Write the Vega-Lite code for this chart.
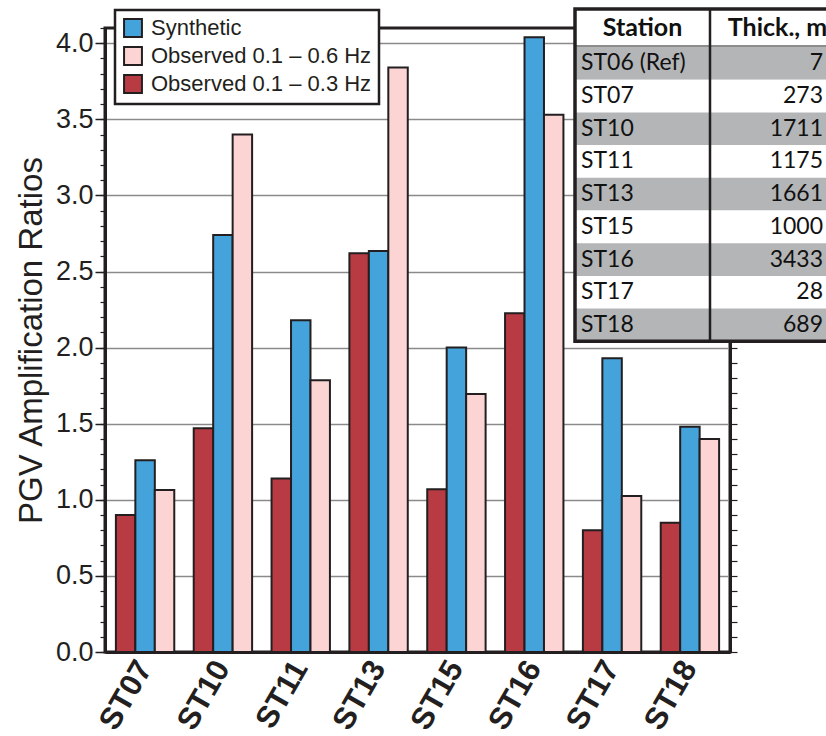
{
  "$schema": "https://vega.github.io/schema/vega-lite/v6.json",
  "width": 625,
  "height": 624,
  "autosize": {"type": "none"},
  "padding": {"left": 105, "top": 28, "right": 96, "bottom": 84},
  "background": "white",
  "config": {
    "view": {"stroke": "#231f20", "strokeWidth": 3},
    "font": "Liberation Sans"
  },
  "datasets": {
    "bars": [
      {"Station": "ST07", "Series": "Observed 0.1 – 0.3 Hz", "Value": 0.90},
      {"Station": "ST07", "Series": "Synthetic", "Value": 1.26},
      {"Station": "ST07", "Series": "Observed 0.1 – 0.6 Hz", "Value": 1.065},
      {"Station": "ST10", "Series": "Observed 0.1 – 0.3 Hz", "Value": 1.47},
      {"Station": "ST10", "Series": "Synthetic", "Value": 2.74},
      {"Station": "ST10", "Series": "Observed 0.1 – 0.6 Hz", "Value": 3.40},
      {"Station": "ST11", "Series": "Observed 0.1 – 0.3 Hz", "Value": 1.14},
      {"Station": "ST11", "Series": "Synthetic", "Value": 2.18},
      {"Station": "ST11", "Series": "Observed 0.1 – 0.6 Hz", "Value": 1.785},
      {"Station": "ST13", "Series": "Observed 0.1 – 0.3 Hz", "Value": 2.62},
      {"Station": "ST13", "Series": "Synthetic", "Value": 2.635},
      {"Station": "ST13", "Series": "Observed 0.1 – 0.6 Hz", "Value": 3.84},
      {"Station": "ST15", "Series": "Observed 0.1 – 0.3 Hz", "Value": 1.07},
      {"Station": "ST15", "Series": "Synthetic", "Value": 2.00},
      {"Station": "ST15", "Series": "Observed 0.1 – 0.6 Hz", "Value": 1.695},
      {"Station": "ST16", "Series": "Observed 0.1 – 0.3 Hz", "Value": 2.225},
      {"Station": "ST16", "Series": "Synthetic", "Value": 4.04},
      {"Station": "ST16", "Series": "Observed 0.1 – 0.6 Hz", "Value": 3.53},
      {"Station": "ST17", "Series": "Observed 0.1 – 0.3 Hz", "Value": 0.80},
      {"Station": "ST17", "Series": "Synthetic", "Value": 1.93},
      {"Station": "ST17", "Series": "Observed 0.1 – 0.6 Hz", "Value": 1.025},
      {"Station": "ST18", "Series": "Observed 0.1 – 0.3 Hz", "Value": 0.85},
      {"Station": "ST18", "Series": "Synthetic", "Value": 1.48},
      {"Station": "ST18", "Series": "Observed 0.1 – 0.6 Hz", "Value": 1.40}
    ],
    "table": [
      {"row": 1, "Station": "ST06 (Ref)", "Thick": 7},
      {"row": 2, "Station": "ST07", "Thick": 273},
      {"row": 3, "Station": "ST10", "Thick": 1711},
      {"row": 4, "Station": "ST11", "Thick": 1175},
      {"row": 5, "Station": "ST13", "Thick": 1661},
      {"row": 6, "Station": "ST15", "Thick": 1000},
      {"row": 7, "Station": "ST16", "Thick": 3433},
      {"row": 8, "Station": "ST17", "Thick": 28},
      {"row": 9, "Station": "ST18", "Thick": 689}
    ],
    "header": [
      {"label": "Station", "col": 0.5},
      {"label": "Thick., m", "col": 1.5}
    ],
    "one": [{}]
  },
  "layer": [
    {
      "data": {"name": "bars"},
      "mark": {"type": "bar", "stroke": "#231f20", "strokeWidth": 2},
      "encoding": {
        "x": {
          "field": "Station", "type": "nominal", "sort": null,
          "scale": {"paddingInner": 0.25, "paddingOuter": 0.14},
          "axis": {"title": null, "labelAngle": -60, "labelFontSize": 31, "labelFontWeight": "bold", "labelColor": "#231f20", "ticks": false, "domain": true, "domainWidth": 3, "domainColor": "#231f20", "labelPadding": 11, "grid": false, "orient": "bottom"}
        },
        "xOffset": {
          "field": "Series", "type": "nominal",
          "scale": {"domain": ["Observed 0.1 – 0.3 Hz", "Synthetic", "Observed 0.1 – 0.6 Hz"], "paddingInner": 0, "paddingOuter": 0}
        },
        "y": {
          "field": "Value", "type": "quantitative",
          "scale": {"domain": [0, 4.1], "nice": false, "zero": true},
          "axis": {"orient": "left", "title": "PGV Amplification Ratios", "values": [0, 0.5, 1, 1.5, 2, 2.5, 3, 3.5, 4], "format": ".1f", "labelFontSize": 27, "labelColor": "#231f20", "titleFontSize": 33, "titleFontWeight": "normal", "titleColor": "#231f20", "tickSize": 10, "tickWidth": 1.5, "tickColor": "#231f20", "domainWidth": 3, "domainColor": "#231f20", "grid": true, "gridColor": "#8a8a8a", "gridWidth": 1.5, "labelPadding": 2, "titlePadding": 7}
        },
        "color": {
          "field": "Series", "type": "nominal",
          "scale": {"domain": ["Synthetic", "Observed 0.1 – 0.6 Hz", "Observed 0.1 – 0.3 Hz"], "range": ["#45a3db", "#fcd4d4", "#b83b44"]},
          "legend": {"title": null, "orient": "none", "legendX": 10, "legendY": -18, "fillColor": "white", "strokeColor": "#231f20", "padding": 7, "symbolType": "square", "symbolSize": 320, "symbolStrokeColor": "#231f20", "symbolStrokeWidth": 2, "labelFontSize": 22, "labelLimit": 0, "labelColor": "#231f20", "rowPadding": 2, "labelOffset": 7,
            "encode": {"legend": {"update": {"strokeWidth": {"value": 2.5}}}}}
        }
      }
    },
    {
      "data": {"name": "one"},
      "mark": {"type": "rule", "opacity": 0},
      "encoding": {
        "y": {"datum": 0, "type": "quantitative", "scale": {"domain": [0, 4.1], "nice": false},
          "axis": {"orient": "left", "title": null, "labels": false, "grid": false, "domain": false, "tickSize": 5, "tickWidth": 1.2, "tickColor": "#231f20", "values": [0,0.1,0.2,0.3,0.4,0.5,0.6,0.7,0.8,0.9,1,1.1,1.2,1.3,1.4,1.5,1.6,1.7,1.8,1.9,2,2.1,2.2,2.3,2.4,2.5,2.6,2.7,2.8,2.9,3,3.1,3.2,3.3,3.4,3.5,3.6,3.7,3.8,3.9,4,4.1]}}
      }
    },
    {
      "data": {"name": "one"},
      "mark": {"type": "rule", "opacity": 0},
      "encoding": {
        "y": {"datum": 0, "type": "quantitative", "scale": {"domain": [0, 4.1], "nice": false},
          "axis": {"orient": "right", "title": null, "labels": false, "grid": false, "domain": true, "domainWidth": 3, "domainColor": "#231f20", "tickSize": 7, "tickWidth": 1.2, "tickColor": "#231f20", "values": [0,0.1,0.2,0.3,0.4,0.5,0.6,0.7,0.8,0.9,1,1.1,1.2,1.3,1.4,1.5,1.6,1.7,1.8,1.9,2,2.1,2.2,2.3,2.4,2.5,2.6,2.7,2.8,2.9,3,3.1,3.2,3.3,3.4,3.5,3.6,3.7,3.8,3.9,4,4.1]}}
      }
    },
    {
      "data": {"name": "one"},
      "mark": {"type": "rect", "fill": "white"},
      "encoding": {
        "x": {"datum": 0, "type": "quantitative", "scale": {"domain": [0, 2], "range": [470, 740], "nice": false}, "axis": null},
        "x2": {"datum": 2},
        "y": {"datum": -0.16, "type": "quantitative", "scale": {"domain": [0, 10], "range": [-13.7, 313.3], "nice": false}, "axis": null},
        "y2": {"datum": 10}
      }
    },
    {
      "data": {"name": "table"},
      "transform": [{"calculate": "datum.row + 1", "as": "rowEnd"}],
      "mark": {"type": "rect"},
      "encoding": {
        "x": {"datum": 0, "type": "quantitative", "scale": {"domain": [0, 2], "range": [470, 740], "nice": false}, "axis": null},
        "x2": {"datum": 2},
        "y": {"field": "row", "type": "quantitative", "scale": {"domain": [0, 10], "range": [-13.7, 313.3], "nice": false}, "axis": null},
        "y2": {"field": "rowEnd"},
        "color": {"condition": {"test": "datum.row % 2 == 1", "value": "#b4b5b7"}, "value": "#ffffff"}
      }
    },
    {
      "data": {"name": "one"},
      "mark": {"type": "rule", "stroke": "#8c8c8c", "strokeWidth": 2},
      "encoding": {
        "x": {"datum": 0, "type": "quantitative", "scale": {"domain": [0, 2], "range": [470, 740], "nice": false}, "axis": null},
        "x2": {"datum": 2},
        "y": {"datum": 0.97, "type": "quantitative", "scale": {"domain": [0, 10], "range": [-13.7, 313.3], "nice": false}, "axis": null}
      }
    },
    {
      "data": {"name": "table"},
      "transform": [{"calculate": "datum.row + 0.5", "as": "rowMid"}],
      "mark": {"type": "text", "align": "left", "baseline": "middle", "dx": 6, "font": "Lato", "fontSize": 23, "color": "#111111"},
      "encoding": {
        "x": {"datum": 0, "type": "quantitative", "scale": {"domain": [0, 2], "range": [470, 740], "nice": false}, "axis": null},
        "y": {"field": "rowMid", "type": "quantitative", "scale": {"domain": [0, 10], "range": [-13.7, 313.3], "nice": false}, "axis": null},
        "text": {"field": "Station"}
      }
    },
    {
      "data": {"name": "table"},
      "transform": [{"calculate": "datum.row + 0.5", "as": "rowMid"}],
      "mark": {"type": "text", "align": "right", "baseline": "middle", "dx": -22, "font": "Lato", "fontSize": 23, "color": "#111111"},
      "encoding": {
        "x": {"datum": 2, "type": "quantitative", "scale": {"domain": [0, 2], "range": [470, 740], "nice": false}, "axis": null},
        "y": {"field": "rowMid", "type": "quantitative", "scale": {"domain": [0, 10], "range": [-13.7, 313.3], "nice": false}, "axis": null},
        "text": {"field": "Thick", "type": "quantitative", "format": "d"}
      }
    },
    {
      "data": {"name": "header"},
      "mark": {"type": "text", "align": "center", "baseline": "middle", "font": "Lato", "fontWeight": "bold", "fontSize": 25, "color": "#111111"},
      "encoding": {
        "x": {"field": "col", "type": "quantitative", "scale": {"domain": [0, 2], "range": [470, 740], "nice": false}, "axis": null},
        "y": {"datum": 0.42, "type": "quantitative", "scale": {"domain": [0, 10], "range": [-13.7, 313.3], "nice": false}, "axis": null},
        "text": {"field": "label"}
      }
    },
    {
      "data": {"name": "one"},
      "mark": {"type": "rule", "stroke": "#231f20", "strokeWidth": 2.5},
      "encoding": {
        "x": {"datum": 1, "type": "quantitative", "scale": {"domain": [0, 2], "range": [470, 740], "nice": false}, "axis": null},
        "y": {"datum": -0.16, "type": "quantitative", "scale": {"domain": [0, 10], "range": [-13.7, 313.3], "nice": false}, "axis": null},
        "y2": {"datum": 10}
      }
    },
    {
      "data": {"name": "one"},
      "mark": {"type": "rect", "fillOpacity": 0, "stroke": "#231f20", "strokeWidth": 3.5},
      "encoding": {
        "x": {"datum": 0, "type": "quantitative", "scale": {"domain": [0, 2], "range": [470, 740], "nice": false}, "axis": null},
        "x2": {"datum": 2},
        "y": {"datum": -0.16, "type": "quantitative", "scale": {"domain": [0, 10], "range": [-13.7, 313.3], "nice": false}, "axis": null},
        "y2": {"datum": 10}
      }
    }
  ],
  "resolve": {
    "scale": {"x": "independent", "y": "independent"},
    "axis": {"x": "independent", "y": "independent"}
  }
}
